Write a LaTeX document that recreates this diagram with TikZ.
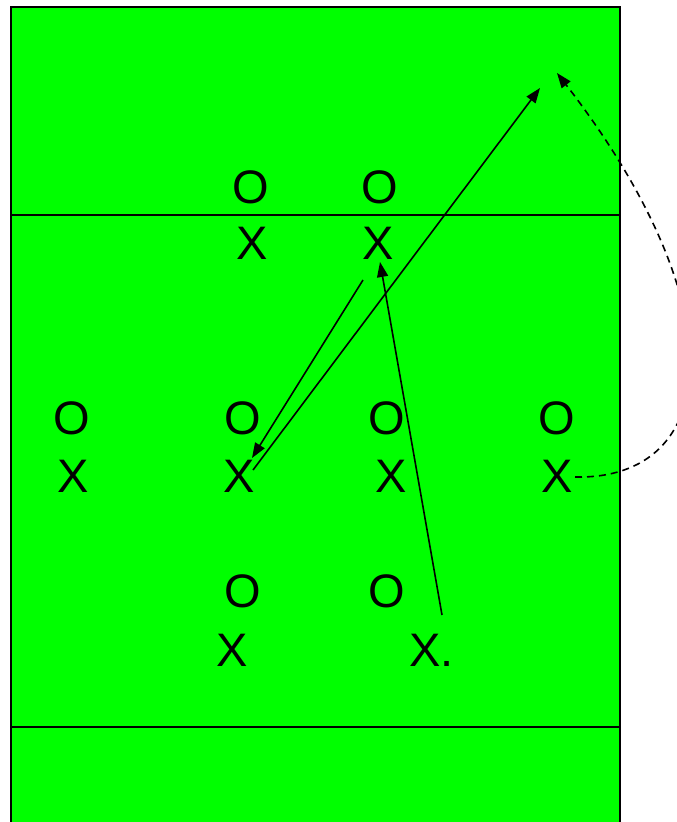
\documentclass[tikz,border=0pt]{standalone}
\usepackage{fontspec}
\setmainfont{Liberation Sans}
\usetikzlibrary{arrows.meta}
\definecolor{court}{RGB}{0,255,0}
\begin{document}
\begin{tikzpicture}[x=1pt,y=-1pt,
  lbl/.style={inner sep=0pt,font=\fontsize{47}{50}\selectfont},
  mv/.style={line width=1.6pt,-{Triangle[length=15pt,width=11pt]}},
  dmv/.style={mv,dash pattern=on 7pt off 5pt}]
\useasboundingbox (0,0) rectangle (677,822);
\fill[court] (11,7) rectangle (620,830);
\draw[line width=1.8pt] (11,830) -- (11,7) -- (620,7) -- (620,830);
\draw[line width=1.8pt] (11,215) -- (620,215);
\draw[line width=1.8pt] (11,727) -- (620,727);
% row 1
\node[lbl] (o1) at (251,187) {O};
\node[lbl] (o2) at (380,187) {O};
\node[lbl] (x1) at (252,243) {X};
\node[lbl] (x2) at (378,243) {X};
% row 2
\node[lbl] (o3) at (72,418) {O};
\node[lbl] (o4) at (243,418) {O};
\node[lbl] (o5) at (387,418) {O};
\node[lbl] (o6) at (557,418) {O};
\node[lbl] (x3) at (73,476) {X};
\node[lbl] (x4) at (239,476) {X};
\node[lbl] (x5) at (391,476) {X};
\node[lbl] (x6) at (557,476) {X};
% row 3
\node[lbl] (o7) at (243,591) {O};
\node[lbl] (o8) at (387,591) {O};
\node[lbl] (x7) at (232,650) {X};
\node[lbl,anchor=west] (x8) at (409,650) {X.};
% connector end points
\coordinate (a1s) at (253,470);
\coordinate (a1e) at (540,88);
\coordinate (a2s) at (363,280);
\coordinate (a2e) at (252,458);
\coordinate (a3s) at (442,615);
\coordinate (a3e) at (380,262);
\coordinate (a4s) at (575,477);
\coordinate (a4e) at (557,73);
\draw[mv] (a1s) -- (a1e);
\draw[mv] (a2s) -- (a2e);
\draw[mv] (a3s) -- (a3e);
\draw[dmv] (a4s) .. controls (720,480) and (740,310) .. (a4e);
\end{tikzpicture}
\end{document}
